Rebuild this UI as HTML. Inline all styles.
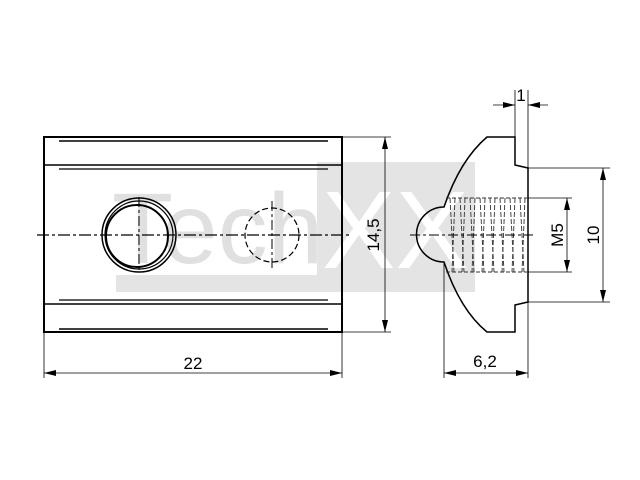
<!DOCTYPE html>
<html><head><style>html,body{margin:0;padding:0;background:#fff}svg{display:block}</style></head>
<body>
<svg width="640" height="480" viewBox="0 0 640 480" xmlns="http://www.w3.org/2000/svg" font-family="Liberation Sans, sans-serif">
<!-- watermark -->
<rect x="317" y="162" width="158" height="130" fill="#e4e4e4"/>
<rect x="116" y="275" width="201" height="17" fill="#e4e4e4"/>
<text x="112" y="263" font-size="100" fill="#e0e0e0">Tech</text>
<text x="322" y="268" font-size="110" fill="#fff">XX</text>
<g stroke="#000" fill="none">
<!-- left view -->
<rect x="44" y="137" width="298" height="195" stroke-width="2"/>
<line x1="59" y1="141" x2="328" y2="141" stroke-width="1.5"/>
<line x1="44" y1="165" x2="342" y2="165" stroke-width="1.5"/>
<line x1="59" y1="169" x2="328" y2="169" stroke-width="1.2"/>
<line x1="59" y1="300" x2="328" y2="300" stroke-width="1.2"/>
<line x1="44" y1="304" x2="342" y2="304" stroke-width="1.5"/>
<line x1="59" y1="329" x2="328" y2="329" stroke-width="1.5"/>
<circle cx="139" cy="235" r="37" stroke-width="1.5"/>
<circle cx="139" cy="235" r="34" stroke-width="1.2"/>
<circle cx="137" cy="236" r="31" stroke-width="2"/>
<circle cx="272" cy="235" r="27" stroke-width="1.2" stroke-dasharray="6,3"/>
<line x1="37" y1="235" x2="350" y2="235" stroke-width="1.2" stroke-dasharray="12,3,3,3"/>
<line x1="139" y1="197" x2="139" y2="273" stroke-width="1" stroke-dasharray="10,3,3,3"/>
<line x1="272" y1="201" x2="272" y2="271" stroke-width="1" stroke-dasharray="10,3,3,3"/>
<!-- dims left -->
<line x1="44" y1="332" x2="44" y2="378" stroke-width="0.8"/>
<line x1="342" y1="332" x2="342" y2="378" stroke-width="0.8"/>
<line x1="44" y1="373" x2="342" y2="373" stroke-width="0.8"/>
<line x1="342" y1="137" x2="391" y2="137" stroke-width="0.8"/>
<line x1="342" y1="332" x2="391" y2="332" stroke-width="0.8"/>
<line x1="385" y1="137" x2="385" y2="332" stroke-width="0.8"/>
<!-- right view -->
<path d="M487 137 L515 137 L515 165 L528 168 L528 302 L515 305 L515 332 L487 332 Q460 310 444 262 A27 27 0 0 1 444 207 Q460 160 487 137 Z" stroke-width="1.5"/>
<line x1="446" y1="198" x2="528" y2="198" stroke-width="1" stroke="#333" stroke-dasharray="4,2"/>
<line x1="446" y1="272" x2="528" y2="272" stroke-width="1" stroke="#333" stroke-dasharray="4,2"/>
<g stroke="#333" stroke-width="0.9" stroke-dasharray="5,2">
<line x1="450" y1="198" x2="454" y2="272"/><line x1="460" y1="198" x2="464" y2="272"/><line x1="470" y1="198" x2="474" y2="272"/><line x1="480" y1="198" x2="484" y2="272"/><line x1="490" y1="198" x2="494" y2="272"/><line x1="500" y1="198" x2="504" y2="272"/><line x1="510" y1="198" x2="514" y2="272"/><line x1="520" y1="198" x2="524" y2="272"/>
<line x1="455" y1="198" x2="452" y2="272"/><line x1="465" y1="198" x2="462" y2="272"/><line x1="475" y1="198" x2="472" y2="272"/><line x1="485" y1="198" x2="482" y2="272"/><line x1="495" y1="198" x2="492" y2="272"/><line x1="505" y1="198" x2="502" y2="272"/><line x1="515" y1="198" x2="512" y2="272"/><line x1="525" y1="198" x2="522" y2="272"/>
</g>
<line x1="410" y1="235" x2="533" y2="235" stroke-width="1" stroke-dasharray="10,3,3,3"/>
<!-- dims right -->
<line x1="515" y1="90" x2="515" y2="137" stroke-width="0.8"/>
<line x1="528" y1="90" x2="528" y2="168" stroke-width="0.8"/>
<line x1="493" y1="105" x2="515" y2="105" stroke-width="0.8"/>
<line x1="528" y1="105" x2="548" y2="105" stroke-width="0.8"/>
<line x1="528" y1="168" x2="610" y2="168" stroke-width="0.8"/>
<line x1="528" y1="302" x2="610" y2="302" stroke-width="0.8"/>
<line x1="603" y1="168" x2="603" y2="302" stroke-width="0.8"/>
<line x1="528" y1="198" x2="572" y2="198" stroke-width="0.8"/>
<line x1="528" y1="272" x2="572" y2="272" stroke-width="0.8"/>
<line x1="567" y1="198" x2="567" y2="272" stroke-width="0.8"/>
<line x1="444" y1="262" x2="444" y2="378" stroke-width="0.8"/>
<line x1="528" y1="302" x2="528" y2="378" stroke-width="0.8"/>
<line x1="444" y1="373" x2="528" y2="373" stroke-width="0.8"/>
</g>
<g fill="#000">
<polygon points="44,373 56,370 56,376"/><polygon points="342,373 330,370 330,376"/>
<polygon points="385,137 382,149 388,149"/><polygon points="385,332 382,320 388,320"/>
<polygon points="515,105 503,102 503,108"/><polygon points="528,105 540,102 540,108"/>
<polygon points="603,168 600,180 606,180"/><polygon points="603,302 600,290 606,290"/>
<polygon points="567,198 564,210 570,210"/><polygon points="567,272 564,260 570,260"/>
<polygon points="444,373 456,370 456,376"/><polygon points="528,373 516,370 516,376"/>
</g>
<g font-size="17" fill="#000" text-anchor="middle">
<text x="193" y="369">22</text>
<text x="485" y="367">6,2</text>
<text x="521" y="101">1</text>
<text transform="translate(379,235) rotate(-90)">14,5</text>
<text transform="translate(563,235) rotate(-90)">M5</text>
<text transform="translate(599,235) rotate(-90)">10</text>
</g>
</svg>
</body></html>
